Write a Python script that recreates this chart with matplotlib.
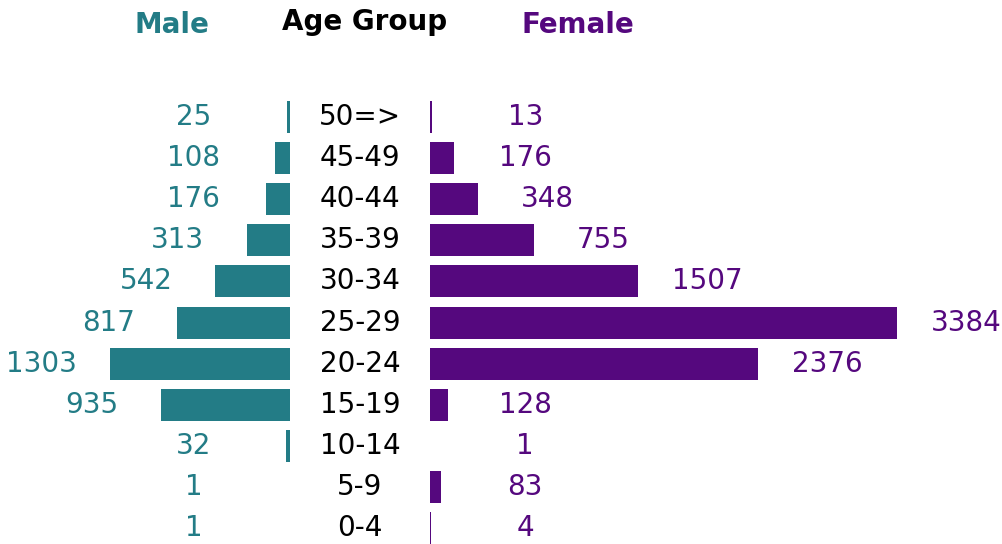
import numpy as np
import matplotlib
matplotlib.use('Agg')
import matplotlib.pyplot as plt
import matplotlib.transforms as mtransforms

# Data (bottom to top)
age_groups = ['0-4', '5-9', '10-14', '15-19', '20-24', '25-29',
              '30-34', '35-39', '40-44', '45-49', '50=>']
male = [1, 1, 32, 935, 1303, 817, 542, 313, 176, 108, 25]
female = [4, 83, 1, 128, 2376, 3384, 1507, 755, 348, 176, 13]

male_color = '#237C86'
female_color = '#55087E'

plt.rcParams['font.family'] = ['DejaVu Sans']

W, H = 1003, 544
fig = plt.figure(figsize=(W / 100, H / 100), dpi=100)

ylim = (-0.39, 12.85)
y = np.arange(len(age_groups))

# male axis: from x=0 to 290 px, inverted
ax_m = fig.add_axes([0, 0, 290 / W, 1])
ax_m.barh(y, male, height=0.78, color=male_color)
ax_m.set_xlim(2100, 0)
ax_m.set_ylim(*ylim)
ax_m.axis('off')

# female axis: from x=430 px to right edge
ax_f = fig.add_axes([430 / W, 0, (W - 430) / W, 1])
ax_f.barh(y, female, height=0.78, color=female_color)
ax_f.set_xlim(0, (W - 430) / 0.138)
ax_f.set_ylim(*ylim)
ax_f.axis('off')

# value labels
for yi, v in zip(y, male):
    ax_m.text(max(v, 200) + 500, yi, str(v), ha='center', va='center',
              fontsize=20, color=male_color)
for yi, v in zip(y, female):
    ax_f.text(max(v, 190) + 500, yi, str(v), ha='center', va='center',
              fontsize=20, color=female_color)

# age group labels in the middle
trans = mtransforms.blended_transform_factory(fig.transFigure, ax_f.transData)
for yi, g in zip(y, age_groups):
    fig.text(360 / W, yi, g, transform=trans, ha='center', va='center',
             fontsize=20, color='black')

# headers
fig.text(172 / W, 1 - 25 / H, 'Male', ha='center', va='center',
         fontsize=20, fontweight='bold', color=male_color)
fig.text(365 / W, 1 - 22 / H, 'Age Group', ha='center', va='center',
         fontsize=20, fontweight='bold', color='black')
fig.text(578 / W, 1 - 25 / H, 'Female', ha='center', va='center',
         fontsize=20, fontweight='bold', color=female_color)

fig.savefig('out.png', dpi=100)
